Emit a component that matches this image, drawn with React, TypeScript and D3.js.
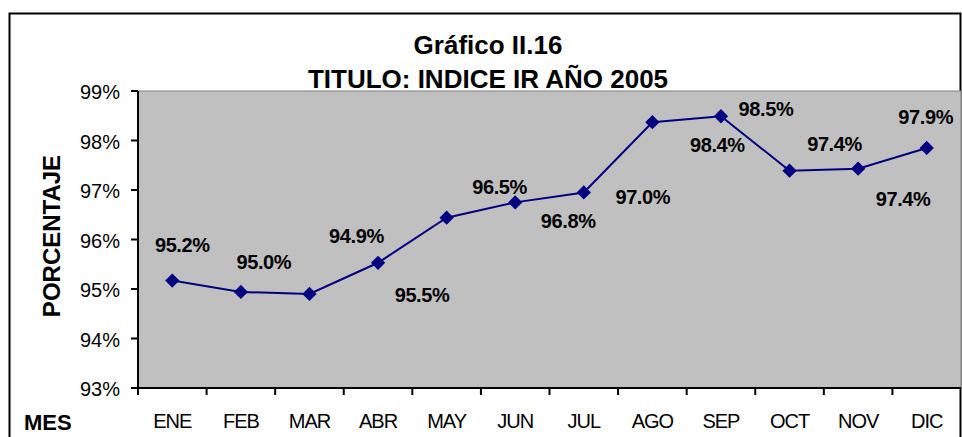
import React, { useRef, useEffect } from "react";
import * as d3 from "d3";

const months = ["ENE", "FEB", "MAR", "ABR", "MAY", "JUN", "JUL", "AGO", "SEP", "OCT", "NOV", "DIC"];
const values = [95.17, 94.94, 94.9, 95.53, 96.44, 96.75, 96.95, 98.37, 98.49, 97.39, 97.43, 97.85];
const labels = ["95.2%", "95.0%", "94.9%", "95.5%", "96.5%", "96.8%", "97.0%", "98.4%", "98.5%", "97.4%", "97.4%", "97.9%"];
// label placement relative to its point (as in the original)
const labelOffsets = [
  [10, -36], [23, -30], [47, -58], [44, 32], [53, -31], [53, 19],
  [59, 5], [65, 23], [45, -7], [45, -27], [45, 30], [-1, -31],
];
const yTicks = [93, 94, 95, 96, 97, 98, 99];
const titleLines = ["Gráfico II.16", "TITULO: INDICE IR AÑO 2005"];

const W = 962;
const H = 437;
const font = "'Liberation Sans', Arial, sans-serif";

export default function App() {
  const ref = useRef<SVGSVGElement>(null);

  useEffect(() => {
    const svg = d3.select(ref.current);
    svg.selectAll("*").remove();

    const left = 138, right = 961, top = 91, bottom = 388;

    const x = d3.scaleBand().domain(months).range([left, right]).padding(0);
    const y = d3.scaleLinear().domain([93, 99]).range([bottom, top]);
    const cx = (m: string) => (x(m) as number) + x.bandwidth() / 2;

    svg.append("rect").attr("width", W).attr("height", H).attr("fill", "#fff");

    // outer frame
    svg.append("rect")
      .attr("x", 9.5).attr("y", 13.5)
      .attr("width", 951).attr("height", 440)
      .attr("fill", "none").attr("stroke", "#000").attr("stroke-width", 2);

    // titles
    svg.selectAll("text.title")
      .data(titleLines)
      .enter()
      .append("text")
      .attr("class", "title")
      .attr("x", 488)
      .attr("y", (d, i) => 54 + i * 34)
      .attr("text-anchor", "middle")
      .style("font-family", font)
      .style("font-weight", "bold")
      .style("font-size", "26px")
      .text((d) => d);

    // plot area
    svg.append("rect")
      .attr("x", left).attr("y", top)
      .attr("width", right - left).attr("height", bottom - top)
      .attr("fill", "#C0C0C0").attr("stroke", "#808080").attr("stroke-width", 1);

    // y axis
    const yAxis = svg.append("g");
    yAxis.append("line")
      .attr("x1", left).attr("x2", left).attr("y1", top).attr("y2", bottom)
      .attr("stroke", "#000").attr("stroke-width", 2);
    yTicks.forEach((t) => {
      yAxis.append("line")
        .attr("x1", left - 7).attr("x2", left).attr("y1", y(t)).attr("y2", y(t))
        .attr("stroke", "#000").attr("stroke-width", 2);
      yAxis.append("text")
        .attr("x", 120).attr("y", y(t) + 8)
        .attr("text-anchor", "end")
        .style("font-family", font)
        .style("font-size", "20px")
        .text(`${t}%`);
    });

    // x axis
    const xAxis = svg.append("g");
    xAxis.append("line")
      .attr("x1", left - 1).attr("x2", right).attr("y1", bottom).attr("y2", bottom)
      .attr("stroke", "#000").attr("stroke-width", 2);
    months.forEach((m) => {
      xAxis.append("line")
        .attr("x1", x(m) as number).attr("x2", x(m) as number)
        .attr("y1", bottom).attr("y2", bottom + 7)
        .attr("stroke", "#000").attr("stroke-width", 2);
      xAxis.append("text")
        .attr("x", cx(m)).attr("y", 428)
        .attr("text-anchor", "middle")
        .style("font-family", font)
        .style("font-size", "20px")
        .style("letter-spacing", "-1px")
        .text(m);
    });

    // axis titles
    svg.append("text")
      .attr("transform", "rotate(-90)")
      .attr("x", -236).attr("y", 60)
      .attr("text-anchor", "middle")
      .style("font-family", font)
      .style("font-weight", "bold")
      .style("font-size", "24px")
      .text("PORCENTAJE");

    svg.append("text")
      .attr("x", 24).attr("y", 430)
      .style("font-family", font)
      .style("font-weight", "bold")
      .style("font-size", "22px")
      .text("MES");

    // line
    const pts = months.map((m, i) => [cx(m), y(values[i])] as [number, number]);
    svg.append("path")
      .datum(pts)
      .attr("fill", "none")
      .attr("stroke", "#000080")
      .attr("stroke-width", 2)
      .attr("d", d3.line());

    // diamond markers
    svg.selectAll("path.marker")
      .data(pts)
      .enter()
      .append("path")
      .attr("class", "marker")
      .attr("d", d3.symbol().type(d3.symbolDiamond2).size(130)())
      .attr("transform", (d) => `translate(${d[0]},${d[1]})`)
      .attr("fill", "#000080");

    // data labels
    svg.selectAll("text.lbl")
      .data(labels)
      .enter()
      .append("text")
      .attr("class", "lbl")
      .attr("x", (d, i) => pts[i][0] + labelOffsets[i][0])
      .attr("y", (d, i) => pts[i][1] + labelOffsets[i][1] + 7)
      .attr("text-anchor", "middle")
      .style("font-family", font)
      .style("font-weight", "bold")
      .style("font-size", "20px")
      .style("letter-spacing", "-0.4px")
      .text((d) => d);
  }, []);

  return (
    <svg
      ref={ref}
      width={W}
      height={H}
      style={{ position: "absolute", left: 0, top: 0 }}
    />
  );
}
